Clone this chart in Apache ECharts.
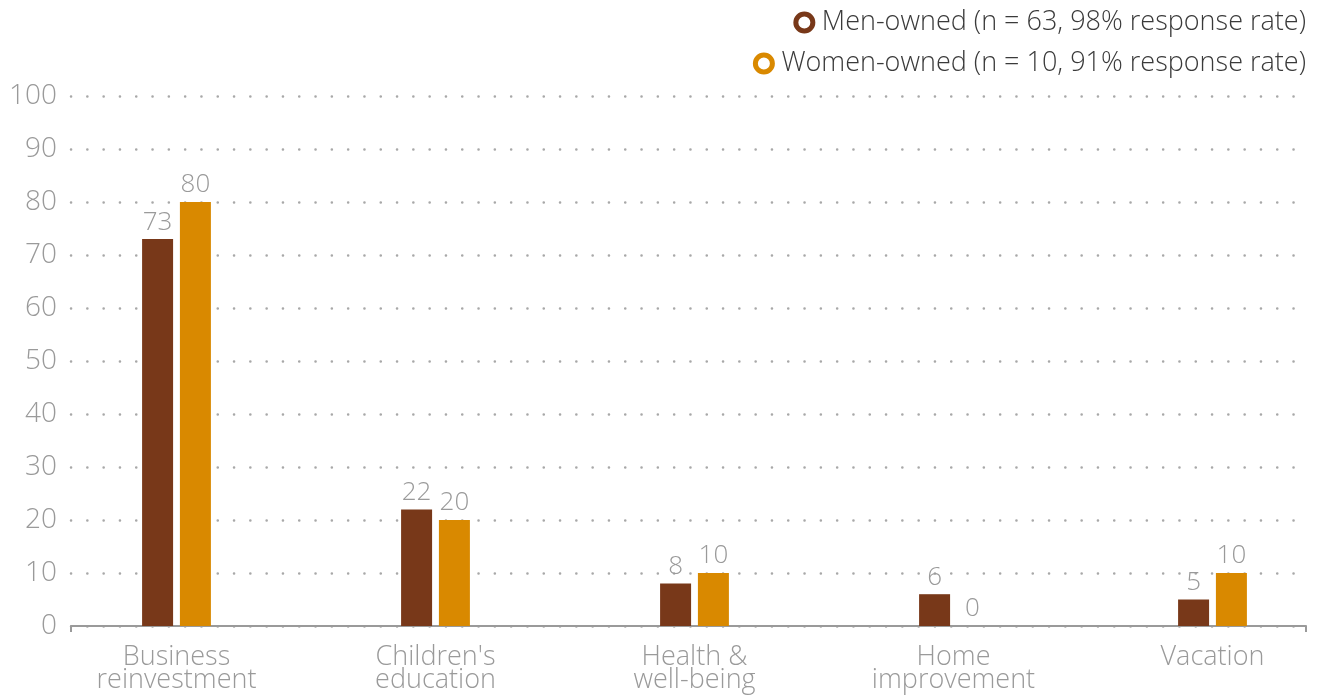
<!DOCTYPE html>
<html><head><meta charset="utf-8">
<script src="https://cdn.jsdelivr.net/npm/echarts@6/dist/echarts.min.js"></script>
<style>html,body{margin:0;padding:0;background:#fff;overflow:hidden}#c{width:1345px;height:697px}</style>
</head><body><div id="c"></div>
<script>
const categories = ['Business\nreinvestment', "Children's\neducation", 'Health &\nwell-being', 'Home\nimprovement', 'Vacation'];
const menOwned = [73, 22, 8, 6, 5];
const womenOwned = [80, 20, 10, 0, 10];
const yTicks = [0, 10, 20, 30, 40, 50, 60, 70, 80, 90, 100];
const menName = 'Men-owned (n = 63, 98% response rate)';
const womenName = 'Women-owned (n = 10, 91% response rate)';

const FONT = 'Open Sans';
const GREY = '#9a9a9a';
const MEN = '#783819';
const WOMEN = '#d98900';

const chart = echarts.init(document.getElementById('c'));
const labelCfg = {show: true, position: 'top', distance: 4, color: GREY, fontFamily: FONT, fontSize: 26, fontWeight: 300};
const legendText = {fontFamily: FONT, fontSize: 27, lineHeight: 27, color: '#3a3a3a', fontWeight: 300, padding: [0, 0, 0, 4]};
chart.setOption({
  animation: false,
  textStyle: {fontFamily: FONT},
  legend: [
    {orient: 'vertical', right: 34, top: 4, itemWidth: 17, itemHeight: 17, textStyle: legendText,
     data: [{name: menName, icon: 'circle', itemStyle: {color: '#fff', borderColor: MEN, borderWidth: 5}}]},
    {orient: 'vertical', right: 34, top: 45, itemWidth: 17, itemHeight: 17, textStyle: legendText,
     data: [{name: womenName, icon: 'circle', itemStyle: {color: '#fff', borderColor: WOMEN, borderWidth: 5}}]}
  ],
  grid: [
    {left: 71, right: 39, top: 96, bottom: 71},
    {left: 47, right: 3, top: 96, bottom: 71}
  ],
  xAxis: [
    {gridIndex: 0, type: 'value', min: 0, max: 1, interval: 1,
     axisLine: {show: true, lineStyle: {color: GREY, width: 2}},
     axisTick: {show: true, length: 6, inside: false, lineStyle: {color: GREY, width: 2}},
     axisLabel: {show: false}, splitLine: {show: false}},
    {gridIndex: 1, type: 'category', data: categories,
     axisLine: {show: false}, axisTick: {show: false},
     axisLabel: {color: GREY, fontFamily: FONT, fontSize: 27, fontWeight: 300, lineHeight: 23, margin: 20}}
  ],
  yAxis: [
    {gridIndex: 0, type: 'value', min: yTicks[0], max: yTicks[yTicks.length - 1], interval: yTicks[1] - yTicks[0],
     axisLine: {show: false}, axisTick: {show: false},
     axisLabel: {color: GREY, fontFamily: FONT, fontSize: 28, fontWeight: 300, margin: 14},
     splitLine: {show: true, lineStyle: {color: '#a8a8a8', width: 2.5, type: [0.1, 16.2], cap: 'round'}}},
    {gridIndex: 1, type: 'value', min: yTicks[0], max: yTicks[yTicks.length - 1], show: false}
  ],
  series: [
    {name: menName, type: 'bar', xAxisIndex: 1, yAxisIndex: 1, data: menOwned,
     barWidth: 31, barGap: '22%', itemStyle: {color: MEN}, label: labelCfg},
    {name: womenName, type: 'bar', xAxisIndex: 1, yAxisIndex: 1, data: womenOwned,
     barWidth: 31, barGap: '22%', itemStyle: {color: WOMEN}, label: labelCfg}
  ]
});
</script></body></html>
